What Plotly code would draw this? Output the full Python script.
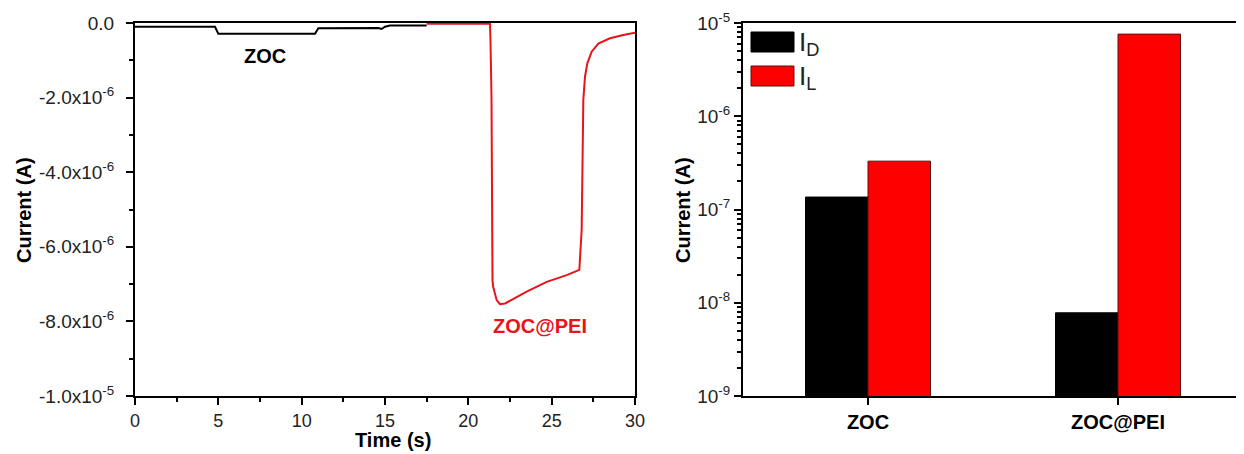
import plotly.graph_objects as go

# ---------------- data ----------------
# Left panel: time-dependent photocurrent
zoc_t = [0, 4.8, 5.0, 10.8, 11.0, 14.6, 14.8, 15.0, 15.3, 17.5]
zoc_i = [-1.0e-7, -1.0e-7, -2.9e-7, -2.9e-7, -1.4e-7, -1.35e-7, -1.6e-7, -1.0e-7, -0.7e-7, -0.7e-7]

pei_t = [17.5, 21.3, 21.33, 21.39, 21.45, 21.49, 21.7, 21.9, 22.2, 23.5, 24.7, 25.9, 26.66,
         26.76, 26.8, 26.9, 27.0, 27.14, 27.4, 27.8, 28.5, 29.3, 30.0]
pei_i = [-0.02e-6, -0.02e-6, -0.5e-6, -2.0e-6, -6.9e-6, -7.07e-6, -7.43e-6, -7.54e-6, -7.52e-6,
         -7.2e-6, -6.94e-6, -6.76e-6, -6.62e-6,
         -5.82e-6, -5.55e-6, -2.06e-6, -1.44e-6, -1.08e-6, -0.77e-6, -0.55e-6, -0.41e-6, -0.32e-6, -0.26e-6]

left_ytickvals = [0, -2e-6, -4e-6, -6e-6, -8e-6, -1e-5]
left_yticktext = ["0.0", "-2.0x10<sup>-6</sup>", "-4.0x10<sup>-6</sup>", "-6.0x10<sup>-6</sup>",
                  "-8.0x10<sup>-6</sup>", "-1.0x10<sup>-5</sup>"]

# Right panel: dark / light current
categories = ["ZOC", "ZOC@PEI"]
i_dark = [1.36e-7, 7.8e-9]
i_light = [3.3e-7, 7.6e-6]

right_ytickvals = [1e-9, 1e-8, 1e-7, 1e-6, 1e-5]
right_yticktext = ["10<sup>-9</sup>", "10<sup>-8</sup>", "10<sup>-7</sup>", "10<sup>-6</sup>", "10<sup>-5</sup>"]
right_minor = [m * 10.0 ** e for e in range(-9, -5) for m in range(2, 10)]

# ---------------- figure ----------------
W, H = 1244, 454
OFF = 8  # page body margin compensation
FONT = "Liberation Sans, Arial, sans-serif"


def px(x):
    return (x - OFF) / W


def py(y):
    return 1 - (y - OFF) / H


fig = go.Figure()

fig.add_trace(go.Scatter(x=zoc_t, y=zoc_i, mode="lines", line=dict(color="black", width=2),
                         xaxis="x", yaxis="y", showlegend=False))
fig.add_trace(go.Scatter(x=pei_t, y=pei_i, mode="lines", line=dict(color="#e8141a", width=2),
                         xaxis="x", yaxis="y", showlegend=False))

fig.add_trace(go.Bar(x=categories, y=i_dark, name="I<sub>D</sub>", marker=dict(color="black", line=dict(color="black", width=1)),
                     xaxis="x2", yaxis="y2", showlegend=False))
fig.add_trace(go.Bar(x=categories, y=i_light, name="I<sub>L</sub>", marker=dict(color="#ff0000", line=dict(color="#5a1010", width=1)),
                     xaxis="x2", yaxis="y2", showlegend=False))

axis_common = dict(showline=True, linecolor="black", linewidth=2, mirror=True, showgrid=False,
                   zeroline=False, ticks="outside", tickcolor="black", tickwidth=2, ticklen=7,
                   automargin=False,
                   tickfont=dict(family=FONT, size=19, color="#222"))

fig.update_layout(
    template="none",
    width=W, height=H,
    margin=dict(l=0, r=0, t=0, b=0, pad=0),
    paper_bgcolor="white", plot_bgcolor="white",
    barmode="group", bargap=0.5, bargroupgap=0,
    xaxis=dict(axis_common, domain=[px(135), px(635)], range=[0, 30], dtick=5, tick0=0,
               tickfont=dict(family=FONT, size=18, color="#222"),
               minor=dict(ticks="outside", dtick=2.5, tick0=0, ticklen=4, tickwidth=1.5, tickcolor="black")),
    yaxis=dict(axis_common, domain=[py(396), py(23)], range=[-1e-5, 0],
               tickmode="array", tickvals=left_ytickvals, ticktext=left_yticktext,
               ticklabelstandoff=8,
               minor=dict(ticks="outside", tickmode="linear", tick0=0, dtick=1e-6, ticklen=4,
                          tickwidth=1.5, tickcolor="black")),
    xaxis2=dict(axis_common, domain=[px(743), px(1243)], range=[-0.5, 1.5], anchor="y2",
                tickfont=dict(family=FONT, size=20, color="black", weight="bold")),
    yaxis2=dict(axis_common, domain=[py(396), py(23)], type="log", range=[-9, -5], anchor="x2",
                tickmode="array", tickvals=right_ytickvals, ticktext=right_yticktext,
                minor=dict(ticks="outside", tickmode="array", tickvals=right_minor, ticklen=4,
                           tickwidth=1.5, tickcolor="black")),
)

# axis titles
title_font = dict(family=FONT, size=20, color="black", weight="bold")
fig.add_annotation(text="Time (s)", x=px(393), y=py(440), xref="paper", yref="paper",
                   showarrow=False, font=title_font, xanchor="center", yanchor="middle")
fig.add_annotation(text="Current (A)", x=px(24), y=py(210), xref="paper", yref="paper",
                   showarrow=False, font=title_font, textangle=-90, xanchor="center", yanchor="middle")
fig.add_annotation(text="Current (A)", x=px(683), y=py(210), xref="paper", yref="paper",
                   showarrow=False, font=title_font, textangle=-90, xanchor="center", yanchor="middle")

# curve labels
fig.add_annotation(text="ZOC", x=px(265), y=py(56), xref="paper", yref="paper", showarrow=False,
                   xanchor="center", yanchor="middle",
                   font=dict(family=FONT, size=20, color="black", weight="bold"))
fig.add_annotation(text="ZOC@PEI", x=px(540), y=py(326), xref="paper", yref="paper", showarrow=False,
                   xanchor="center", yanchor="middle",
                   font=dict(family=FONT, size=20, color="#e8141a", weight="bold"))

# legend (manual swatches)
fig.add_shape(type="rect", xref="paper", yref="paper", x0=px(751), x1=px(794), y0=py(52), y1=py(32),
              fillcolor="black", line=dict(color="black", width=1))
fig.add_shape(type="rect", xref="paper", yref="paper", x0=px(751), x1=px(794), y0=py(86), y1=py(66),
              fillcolor="#ff0000", line=dict(color="#5a1010", width=1))
fig.add_annotation(text="I<sub>D</sub>", x=px(797), y=py(44), xref="paper", yref="paper", showarrow=False,
                   xanchor="left", yanchor="middle", font=dict(family=FONT, size=26, color="#222"))
fig.add_annotation(text="I<sub>L</sub>", x=px(797), y=py(78), xref="paper", yref="paper", showarrow=False,
                   xanchor="left", yanchor="middle", font=dict(family=FONT, size=26, color="#222"))

fig.write_html("out.html")
